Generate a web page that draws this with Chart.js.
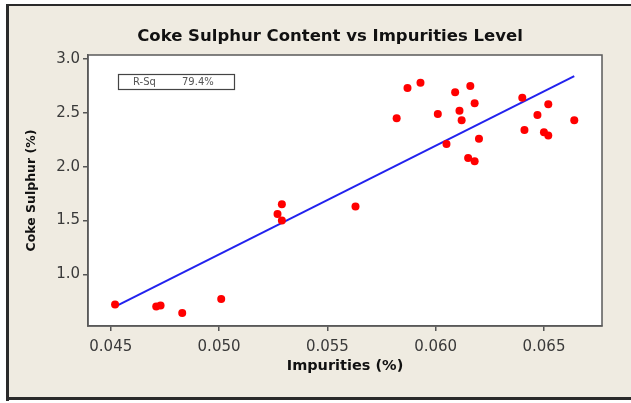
<!DOCTYPE html>
<html>
<head>
<meta charset="utf-8">
<script src="https://cdn.jsdelivr.net/npm/chart.js@4.4.1/dist/chart.umd.min.js"></script>
<style>
  html, body { margin: 0; padding: 0; background: #ffffff; }
  canvas { display: block; }
</style>
</head>
<body>
<canvas id="c" width="631" height="403"></canvas>
<script>
// ---- Data ----
const impurities = [0.0452, 0.0471, 0.0473, 0.0483, 0.0501, 0.0527, 0.0529, 0.0529, 0.0563,
                    0.0587, 0.0593, 0.0582, 0.0601, 0.0609, 0.0616, 0.0611, 0.0612, 0.0618,
                    0.0605, 0.0620, 0.0615, 0.0618, 0.0640, 0.0652, 0.0647, 0.0664, 0.0641,
                    0.0650, 0.0652];
const sulphur = [0.72, 0.70, 0.71, 0.64, 0.77, 1.56, 1.65, 1.50, 1.63,
                 2.73, 2.78, 2.45, 2.49, 2.69, 2.75, 2.52, 2.43, 2.59,
                 2.21, 2.26, 2.08, 2.05, 2.64, 2.58, 2.48, 2.43, 2.34,
                 2.32, 2.29];
const fitX = [0.0452, 0.0664];
const fitY = [0.70, 2.84];
const xTicks = [0.045, 0.050, 0.055, 0.060, 0.065];
const yTicks = [1.0, 1.5, 2.0, 2.5, 3.0];
const chartTitle = 'Coke Sulphur Content vs Impurities Level';
const xTitle = 'Impurities (%)';
const yTitle = 'Coke Sulphur (%)';
const rsqLabel = 'R-Sq';
const rsqValue = '79.4%';

const FONT = '"DejaVu Sans", Verdana, sans-serif';

const scatterPts = impurities.map((x, i) => ({ x: x, y: sulphur[i] }));
const fitPts = fitX.map((x, i) => ({ x: x, y: fitY[i] }));

const decorPlugin = {
  id: 'decor',
  beforeDraw(chart) {
    const ctx = chart.ctx;
    const W = chart.width, H = chart.height;
    ctx.save();
    ctx.fillStyle = '#ffffff';
    ctx.fillRect(0, 0, W, H);
    ctx.fillStyle = '#EFEBE1';
    ctx.fillRect(6, 5, W - 6, 395);
    ctx.fillStyle = '#2a2a2a';
    ctx.fillRect(6, 4, W - 6, 2);     // top frame
    ctx.fillRect(6, 4, 3, 397);       // left frame
    ctx.fillRect(6, 397, W - 6, 3);   // bottom frame
    const a = chart.chartArea;
    ctx.fillStyle = '#ffffff';
    ctx.fillRect(a.left, a.top, a.right - a.left, a.bottom - a.top);
    ctx.restore();
  },
  afterDraw(chart) {
    const ctx = chart.ctx;
    const a = chart.chartArea;
    ctx.save();
    // plot frame
    ctx.strokeStyle = '#5a5a5a';
    ctx.lineWidth = 1.5;
    ctx.strokeRect(a.left, a.top, a.right - a.left, a.bottom - a.top);
    // title
    ctx.fillStyle = '#111111';
    ctx.font = 'bold 16.5px ' + FONT;
    ctx.textAlign = 'center';
    ctx.textBaseline = 'middle';
    ctx.fillText(chartTitle, 330, 37);
    // R-Sq box
    ctx.strokeStyle = '#444444';
    ctx.lineWidth = 1.2;
    ctx.strokeRect(118.5, 74.5, 116, 15);
    ctx.fillStyle = '#555555';
    ctx.font = '10px ' + FONT;
    ctx.textAlign = 'left';
    ctx.fillText(rsqLabel, 133, 82.5);
    ctx.fillText(rsqValue, 182, 82.5);
    ctx.restore();
  }
};

new Chart(document.getElementById('c'), {
  type: 'scatter',
  data: {
    datasets: [
      {
        label: 'Observations',
        data: scatterPts,
        showLine: false,
        pointRadius: 4,
        pointBackgroundColor: '#ff0000',
        pointBorderWidth: 0,
        pointBorderColor: '#ff0000'
      },
      {
        label: 'Fit',
        data: fitPts,
        showLine: true,
        borderColor: '#2222ee',
        borderWidth: 2,
        pointRadius: 0,
        fill: false
      }
    ]
  },
  options: {
    responsive: false,
    animation: false,
    devicePixelRatio: 1,
    layout: { padding: { left: 0, top: 55, right: 29, bottom: 0 } },
    plugins: {
      legend: { display: false },
      tooltip: { enabled: false },
      title: { display: false }
    },
    scales: {
      x: {
        type: 'linear',
        min: 0.04395,
        max: 0.06768,
        afterBuildTicks(scale) { scale.ticks = xTicks.map(v => ({ value: v })); },
        afterFit(scale) { scale.height = 77; },
        ticks: {
          color: '#3a3a3a',
          font: { family: FONT, size: 15 },
          padding: 7,
          maxRotation: 0,
          callback: v => Number(v).toFixed(3)
        },
        grid: { drawOnChartArea: false, drawTicks: true, tickLength: 5, color: '#555555', lineWidth: 1.5 },
        border: { display: true, color: '#5a5a5a', width: 1.5 },
        title: {
          display: true,
          text: xTitle,
          color: '#111111',
          font: { family: FONT, size: 14.5, weight: 'bold' },
          padding: { top: 0, bottom: 28 }
        }
      },
      y: {
        type: 'linear',
        min: 0.52,
        max: 3.037,
        afterBuildTicks(scale) { scale.ticks = yTicks.map(v => ({ value: v })); },
        afterFit(scale) { scale.width = 88; },
        ticks: {
          color: '#3a3a3a',
          font: { family: FONT, size: 15 },
          padding: 3,
          callback: v => Number(v).toFixed(1)
        },
        grid: { drawOnChartArea: false, drawTicks: true, tickLength: 5, color: '#555555', lineWidth: 1.5 },
        border: { display: true, color: '#5a5a5a', width: 1.5 },
        title: {
          display: true,
          text: yTitle,
          color: '#111111',
          font: { family: FONT, size: 12.5, weight: 'bold' },
          padding: { top: 24, bottom: 0 }
        }
      }
    }
  },
  plugins: [decorPlugin]
});
</script>
</body>
</html>
